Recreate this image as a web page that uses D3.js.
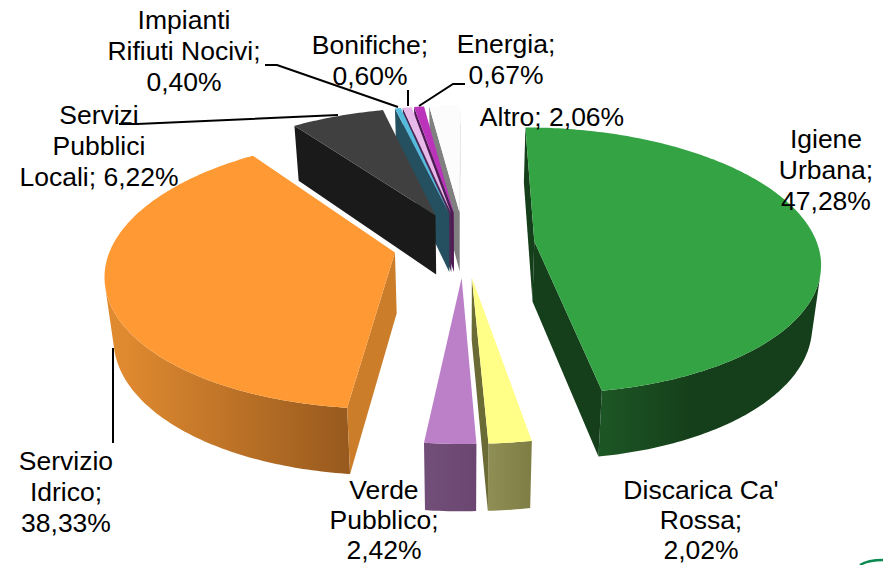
<!DOCTYPE html>
<html>
<head>
<meta charset="utf-8">
<style>
html,body{margin:0;padding:0;background:#fff;}
svg{display:block;}
text{font-family:"Liberation Sans",Arial,sans-serif;font-size:26.5px;fill:#000;text-anchor:middle;}
</style>
<script src="https://cdn.jsdelivr.net/npm/d3@7/dist/d3.min.js"></script>
</head>
<body>
<svg id="chart" width="883" height="565"></svg>
<script>
const categories = ["Igiene Urbana","Discarica Ca' Rossa","Verde Pubblico","Servizio Idrico","Servizi Pubblici Locali","Impianti Rifiuti Nocivi","Bonifiche","Energia","Altro"];
const values = [47.28,2.02,2.42,38.33,6.22,0.40,0.60,0.67,2.06];
const labelLines = [
  ["Igiene","Urbana;","47,28%"],
  ["Discarica Ca'","Rossa;","2,02%"],
  ["Verde","Pubblico;","2,42%"],
  ["Servizio","Idrico;","38,33%"],
  ["Servizi","Pubblici","Locali; 6,22%"],
  ["Impianti","Rifiuti Nocivi;","0,40%"],
  ["Bonifiche;","0,60%"],
  ["Energia;","0,67%"],
  ["Altro; 2,06%"]
];
const topColors  = ["#33a343","#ffff88","#bb80c8","#ff9933","#404040","#55bbdd","#e8b8e8","#bb33bb","#fcfcfc"];
const wallColors = ["#153f1a","#6b6b35","#5a3c60","#cc7d2a","#1a1a1a","#24505f","#4a2a55","#4f1a55","#808080"];
const rimFront   = ["#1d5625","#8f8f55","#724f78","#985a1e","#1a1a1a","#24505f","#6a4a6a","#4f1a55","#808080"];
const rimBack    = ["#153f1a","#7e7e44","#6a4670","#e08a30","#1a1a1a","#24505f","#6a4a6a","#4f1a55","#808080"];

// layout (separate from the data)
const labelPos = [[826,148],[701,499],[384,499],[66,470],[99,124],[184,29],[370,54],[506,53],[552,126]];
const labelLeading = [31,30,30,31,31,31,31,31,31];
const leaders = [
  [[113,348],[113,443]],
  [[119,124],[137,124],[338,115]],
  [[265,65],[277,65],[398,107]],
  [[408,90],[408,106]],
  [[465,84],[453,84],[419,106]]
];
const cx=464, cy=244, R=283, A=131, persp=0.145, explode=0.25, H=60.5, depthTilt=0.09, zShrink=0.025;
const xS=d3.scaleLinear().domain([-1,1]).range([cx-R,cx+R]);
const yS=d3.scaleLinear().domain([-1,1]).range([cy+A,cy-A]);

function project(x3,y3,z){
  const s=1/(1+persp*y3), zs=1-zShrink*z;
  return [xS(x3*s*zs), yS(y3*s)+H*(1-depthTilt*y3)*z];
}
const svg=d3.select("#chart");
const defs=svg.append("defs");
const pie=d3.pie().sort(null).value(d=>d).startAngle(0).endAngle(2*Math.PI);
const arcs=pie(values).map((a,i)=>({...a,i,mid:(a.startAngle+a.endAngle)/2}));
const lineGen=d3.line();
const poly=pts=>lineGen(pts)+"Z";

function drawSlice(g,a){
  const ex=explode*Math.sin(a.mid), ey=explode*Math.cos(a.mid);
  const pt=(t,r,z)=>project(ex+r*Math.sin(t), ey+r*Math.cos(t), z);
  const nSeg=Math.max(2,Math.ceil((a.endAngle-a.startAngle)/0.015));
  const angles=d3.range(nSeg+1).map(k=>a.startAngle+(a.endAngle-a.startAngle)*k/nSeg);
  // gradient span along the rim, from the front corner of the slice
  const span = a.i===0 ? [a.endAngle,a.endAngle-0.3]
             : a.i===3 ? [a.startAngle,a.startAngle+Math.PI*0.52]
             : [a.endAngle,a.startAngle];
  const gid="rim"+a.i;
  const grad=defs.append("linearGradient").attr("id",gid).attr("gradientUnits","userSpaceOnUse")
    .attr("x1",pt(span[0],1,0)[0]).attr("y1",0).attr("x2",pt(span[1],1,0)[0]).attr("y2",0);
  grad.append("stop").attr("offset",0).attr("stop-color",rimFront[a.i]);
  grad.append("stop").attr("offset",1).attr("stop-color",rimBack[a.i]);
  // rim wall: the run of facets that face the viewer
  const visible=d3.pairs(angles).filter(([t0,t1])=>d3.polygonArea([pt(t0,1,0),pt(t1,1,0),pt(t1,1,1),pt(t0,1,1)])>0);
  if(visible.length){
    const ts=[visible[0][0]].concat(visible.map(p=>p[1]));
    const q=ts.map(t=>pt(t,1,0)).concat(ts.slice().reverse().map(t=>pt(t,1,1)));
    g.append("path").attr("d",poly(q)).attr("fill",`url(#${gid})`);
  }
  // radial walls
  const w1=[pt(0,0,0),pt(a.startAngle,1,0),pt(a.startAngle,1,1),pt(0,0,1)];
  const w2=[pt(a.endAngle,1,0),pt(0,0,0),pt(0,0,1),pt(a.endAngle,1,1)];
  [w1,w2].forEach(q=>{
    if(d3.polygonArea(q)>0){
      g.append("path").attr("d",poly(q)).attr("fill",wallColors[a.i]);
    }
  });
  // top face
  const top=[pt(0,0,0)].concat(angles.map(t=>pt(t,1,0)));
  g.append("path").attr("d",poly(top)).attr("fill",topColors[a.i]);
}

const pieG=svg.append("g");
arcs.slice().reverse().forEach(a=>drawSlice(pieG.append("g").attr("class","slice"),a));

const leaderG=svg.append("g");
leaders.forEach(l=>leaderG.append("path").attr("d",lineGen(l)).attr("fill","none").attr("stroke","#000").attr("stroke-width",2));

labelLines.forEach((lines,i)=>{
  const t=svg.append("text").attr("x",labelPos[i][0]).attr("y",labelPos[i][1]);
  lines.forEach((s,k)=>t.append("tspan").attr("x",labelPos[i][0]).attr("y",labelPos[i][1]+k*labelLeading[i]).text(s));
});

// corner logo fragment
svg.append("path").attr("d","M860 565Q868 560 883 560").attr("fill","none").attr("stroke","#0a8a50").attr("stroke-width",2.5);
</script>
</body>
</html>
